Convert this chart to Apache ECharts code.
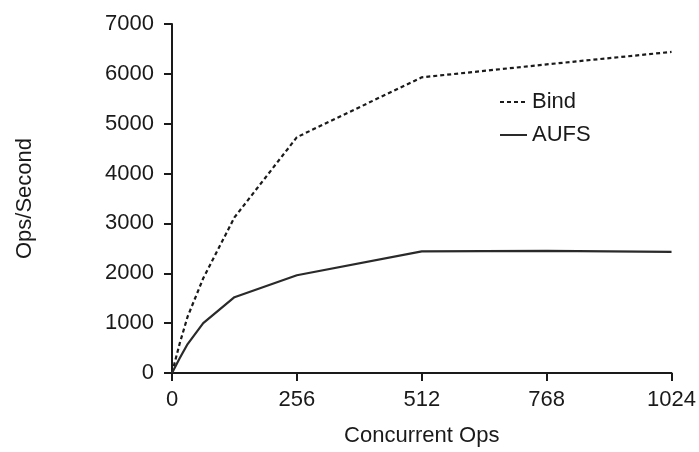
<!DOCTYPE html>
<html>
<head>
<meta charset="utf-8">
<script src="https://cdn.jsdelivr.net/npm/echarts@6/dist/echarts.min.js"></script>
<style>
  html, body { margin: 0; padding: 0; background: #fff; }
  #chart { width: 699px; height: 452px; }
</style>
</head>
<body>
<div id="chart"></div>
<script>
// concurrent ops (x) and ops/second for each setup
const concurrentOps = [0, 16, 32, 64, 128, 256, 512, 768, 1024];
const bindOps = [0, 600, 1130, 1900, 3120, 4730, 5930, 6190, 6440];
const aufsOps = [0, 300, 580, 1000, 1520, 1960, 2440, 2450, 2430];
const xTicks = [0, 256, 512, 768, 1024];

const font = '"Liberation Sans", Arial, Helvetica, sans-serif';
const ink = '#1a1a1a';

const pairs = (ys) => concurrentOps.map((x, i) => [x, ys[i]]);

const chart = echarts.init(document.getElementById('chart'));

chart.setOption({
  animation: false,
  backgroundColor: '#fff',
  grid: { left: 172, right: 27, top: 24, bottom: 77 },
  legend: {
    left: 494,
    top: 86,
    orient: 'vertical',
    itemGap: 11,
    itemWidth: 27,
    itemHeight: 14,
    itemStyle: { opacity: 0 },
    textStyle: { fontFamily: font, fontSize: 22, color: ink },
    data: ['Bind', 'AUFS']
  },
  xAxis: {
    type: 'value',
    min: 0,
    max: 1024,
    interval: 256,
    name: 'Concurrent Ops',
    nameLocation: 'middle',
    nameGap: 52,
    nameTextStyle: { fontFamily: font, fontSize: 22, color: ink },
    axisLine: { lineStyle: { color: ink, width: 2 } },
    axisTick: { show: true, length: 8, lineStyle: { color: ink, width: 2 } },
    axisLabel: {
      fontFamily: font, fontSize: 22, color: ink, margin: 16,
      formatter: (v) => xTicks.includes(v) ? String(v) : ''
    },
    splitLine: { show: false }
  },
  yAxis: {
    type: 'value',
    min: 0,
    max: 7000,
    interval: 1000,
    name: 'Ops/Second',
    nameLocation: 'middle',
    nameGap: 136,
    nameTextStyle: { fontFamily: font, fontSize: 22, color: ink },
    axisLine: { show: true, lineStyle: { color: ink, width: 2 } },
    axisTick: { show: true, length: 8, lineStyle: { color: ink, width: 2 } },
    axisLabel: { fontFamily: font, fontSize: 22, color: ink, margin: 18, formatter: (v) => String(v) },
    splitLine: { show: false }
  },
  series: [
    {
      name: 'Bind',
      type: 'line',
      data: pairs(bindOps),
      symbol: 'none',
      lineStyle: { color: ink, width: 2.2, type: [4, 3] },
      itemStyle: { color: ink }
    },
    {
      name: 'AUFS',
      type: 'line',
      data: pairs(aufsOps),
      symbol: 'none',
      lineStyle: { color: '#2a2a2a', width: 2.2, type: 'solid' },
      itemStyle: { color: '#2a2a2a' }
    }
  ]
});
</script>
</body>
</html>
